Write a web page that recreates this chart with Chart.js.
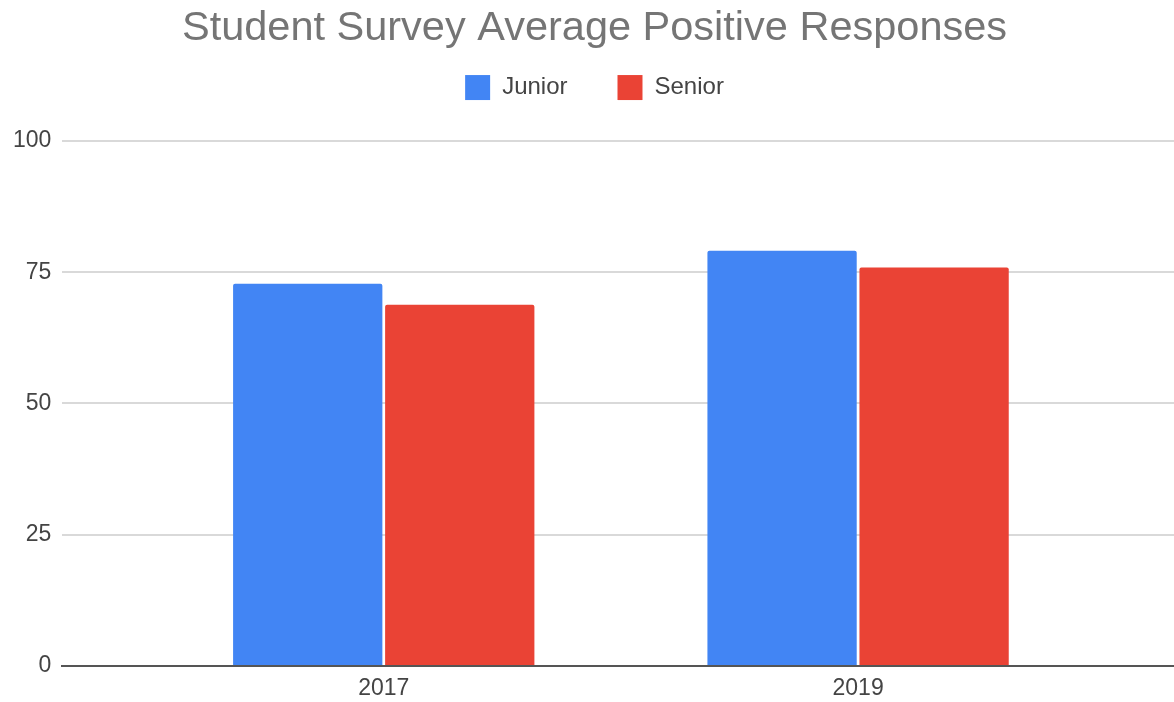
<!DOCTYPE html>
<html>
<head>
<meta charset="utf-8">
<script src="https://cdn.jsdelivr.net/npm/chart.js@4"></script>
<style>
  body { margin: 0; background: #fff; overflow: hidden; }
  #wrap { width: 1174px; height: 702px; }
</style>
</head>
<body>
<div id="wrap"><canvas id="grafico"></canvas></div>
<script>
// datos
const years = [2017, 2019];
const junior = [72.8, 79.1];
const senior = [68.8, 75.9];
const yTicks = [0, 25, 50, 75, 100];

const fuente = '"Liberation Sans", Arial, sans-serif';

const ctx = document.getElementById('grafico').getContext('2d');
window.myChart = new Chart(ctx, {
  type: 'bar',
  data: {
    datasets: [{
      label: 'Junior',
      data: years.map((yr, i) => ({ x: yr, y: junior[i] })),
      backgroundColor: '#4285F4',
      borderRadius: 2
    }, {
      label: 'Senior',
      data: years.map((yr, i) => ({ x: yr, y: senior[i] })),
      backgroundColor: '#EA4335',
      borderRadius: 2
    }]
  },
  options: {
    responsive: true,
    maintainAspectRatio: false,
    animation: false,
    datasets: {
      bar: { categoryPercentage: 0.641, barPercentage: 0.982 }
    },
    // el gráfico original está recortado a la derecha
    layout: { padding: { left: 2, right: -13, top: 0, bottom: -9.5 } },
    plugins: {
      tooltip: { enabled: false },
      title: {
        display: true,
        text: 'Student Survey Average Positive Responses',
        color: '#757575',
        font: { family: fuente, size: 41.5, weight: 'normal', lineHeight: 0.7 },
        padding: { top: 14, bottom: -18 }
      },
      // espacio vacío debajo de la leyenda
      subtitle: {
        display: true,
        text: '',
        weight: 500,
        font: { size: 1, lineHeight: 1 },
        padding: { top: 0, bottom: 30 }
      },
      legend: {
        display: true,
        labels: {
          color: '#444',
          font: { family: fuente, size: 24 },
          boxWidth: 25,
          boxHeight: 25,
          padding: 50
        }
      }
    },
    scales: {
      x: {
        type: 'linear',
        offset: false,
        min: 2015.645,
        max: 2020.332,
        z: 1,
        grid: { display: false, drawTicks: false },
        border: { display: true, color: '#555', width: 2 },
        afterBuildTicks: (axis) => { axis.ticks = years.map(v => ({ value: v })); },
        ticks: {
          color: '#444',
          font: { family: fuente, size: 23 },
          padding: 9,
          callback: (v) => String(v)
        }
      },
      y: {
        min: 0,
        max: 100,
        afterBuildTicks: (axis) => { axis.ticks = yTicks.map(v => ({ value: v })); },
        grid: {
          drawTicks: false,
          color: '#d9d9d9',
          lineWidth: 2
        },
        border: { display: false },
        ticks: {
          color: '#444',
          font: { family: fuente, size: 23 },
          padding: 11
        }
      }
    }
  }
});
</script>
</body>
</html>
